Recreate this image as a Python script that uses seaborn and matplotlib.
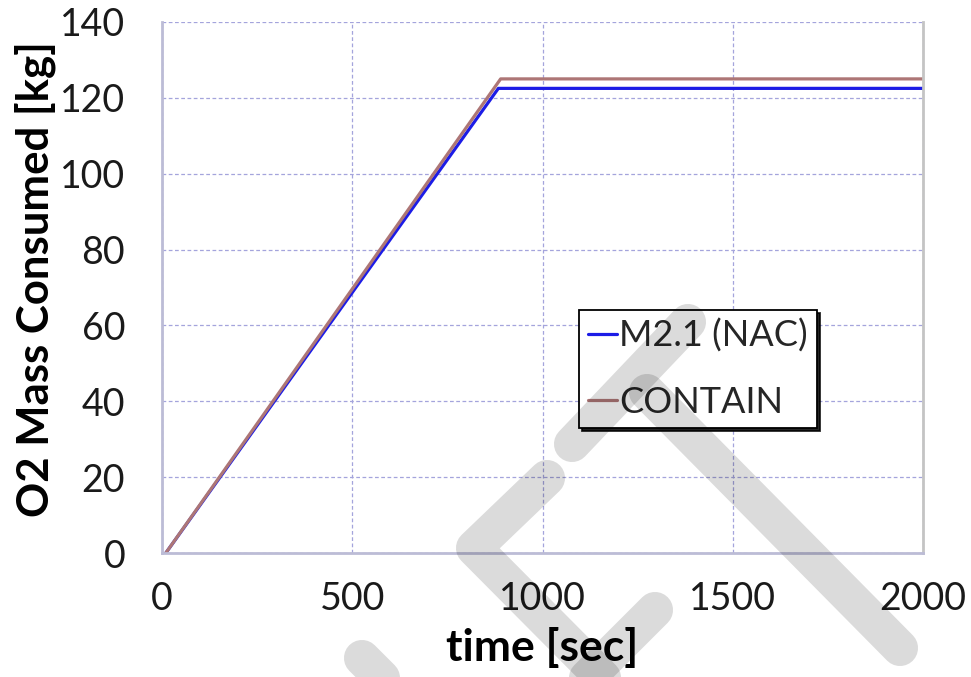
import matplotlib
matplotlib.use("Agg")
import matplotlib.pyplot as plt
from matplotlib.lines import Line2D
import seaborn as sns
import pandas as pd

# ---- data ----
series_names = ["M2.1 (NAC)", "CONTAIN"]
nac_time = [10, 884, 2000]
nac_mass = [0, 122.5, 122.5]
contain_time = [10, 890, 2000]
contain_mass = [0, 125.0, 125.0]
x_ticks = [0, 500, 1000, 1500, 2000]
y_ticks = [0, 20, 40, 60, 80, 100, 120, 140]
x_label = "time [sec]"
y_label = "O2 Mass Consumed [kg]"

df = pd.concat([
    pd.DataFrame({"time": nac_time, "mass": nac_mass, "series": series_names[0]}),
    pd.DataFrame({"time": contain_time, "mass": contain_mass, "series": series_names[1]}),
])

sns.set_theme(style="white")
plt.rcParams["font.family"] = ["Lato", "DejaVu Sans"]

W, H = 971, 677
fig = plt.figure(figsize=(W / 100, H / 100), dpi=100)
fig.patch.set_facecolor("white")
ax = fig.add_axes([162 / W, 1 - 553 / H, (923 - 162) / W, (553 - 22) / H])
ax.set_facecolor("white")

palette = {series_names[0]: "#1c1ce6", series_names[1]: "#ad7676"}
sns.lineplot(data=df, x="time", y="mass", hue="series", palette=palette,
             hue_order=series_names, linewidth=2.3, ax=ax, legend=True,
             estimator=None, sort=False)

ax.set_xlim(0, 2000)
ax.set_ylim(0, 140)
ax.set_xticks(x_ticks)
ax.set_yticks(y_ticks)
ax.set_xticklabels([str(t) for t in x_ticks])
ax.set_yticklabels([str(t) for t in y_ticks])

grid_color = "#a4a4dc"
ax.grid(True, color=grid_color, linestyle=(0, (3, 2)), linewidth=0.9)
ax.set_axisbelow(True)

spine_color = "#bcbcd6"
for s in ["left", "bottom"]:
    ax.spines[s].set_color(spine_color)
    ax.spines[s].set_linewidth(2.0)
ax.spines["right"].set_color("#c4c4c4")
ax.spines["right"].set_linewidth(2.0)
ax.spines["top"].set_visible(False)

ax.tick_params(axis="both", which="major", direction="out", length=9.5,
               width=1.4, color=spine_color, labelsize=27, labelcolor="#1a1a1a")
ax.tick_params(axis="y", pad=17)
ax.tick_params(axis="x", pad=11)

ax.set_xlabel(x_label, fontsize=32, fontweight="bold", color="black", va="top")
ax.xaxis.set_label_coords(0.5, -0.14)
ax.set_ylabel(y_label, fontsize=31.5, fontweight="bold", color="black", va="center")
ax.yaxis.set_label_coords(-0.166, 0.515)

leg = ax.legend(title=None, loc="upper left",
                bbox_to_anchor=((579 - 162) / 761, (553 - 310) / 531),
                borderaxespad=0, fontsize=26, frameon=True, fancybox=False,
                handlelength=0.8, handletextpad=0.06, borderpad=0.25,
                labelspacing=0.9,
                shadow={"ox": 2.2, "oy": -2.2, "color": "black", "alpha": 0.85})
leg.get_frame().set_edgecolor("black")
leg.get_frame().set_linewidth(1.3)
leg.get_frame().set_facecolor("white")
leg.get_frame().set_alpha(1)
for line in leg.get_lines():
    line.set_linewidth(2.3)

# ---- faint watermark strokes (pixel coords, y down) ----
def px(points):
    xs = [p[0] / W for p in points]
    ys = [1 - p[1] / H for p in points]
    return xs, ys

strokes = [
    [(688, 322), (572, 444)],
    [(647, 392), (900, 648)],
    [(547, 478), (474, 548), (615, 690)],
    [(655, 610), (580, 685)],
    [(362, 658), (400, 696)],
]
for pts in strokes:
    xs, ys = px(pts)
    fig.add_artist(Line2D(xs, ys, transform=fig.transFigure, linewidth=26,
                          color="black", alpha=0.14, solid_capstyle="round",
                          solid_joinstyle="round", zorder=20))

fig.savefig("out.png", dpi=100)
